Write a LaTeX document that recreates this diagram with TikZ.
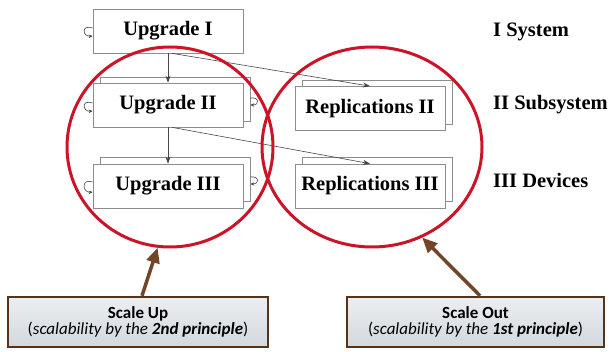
\documentclass[tikz,border=0pt]{standalone}
\usepackage{fontspec}
\setmainfont{Liberation Serif}
\newfontfamily\calibfont{Carlito}
\usetikzlibrary{arrows.meta,shapes.geometric,shadows}
\definecolor{ringred}{RGB}{204,20,40}
\definecolor{boxgray}{RGB}{140,140,140}
\definecolor{linkgray}{RGB}{70,70,70}
\definecolor{pointbrown}{RGB}{115,68,38}
\definecolor{panelframe}{RGB}{85,52,30}
\definecolor{paneltop}{RGB}{236,238,241}
\definecolor{panelbot}{RGB}{210,216,223}
\begin{document}
\begin{tikzpicture}[x=1pt,y=-1pt,
  level/.style={draw=boxgray, line width=0.7pt, fill=white,
    minimum width=150pt, minimum height=44pt, inner sep=0pt,
    font=\bfseries\fontsize{20.5}{22}\selectfont},
  stacked/.style={copy shadow={shadow xshift=7pt, shadow yshift=#1,
    draw=boxgray, line width=0.7pt, fill=white}},
  link/.style={draw=linkgray, line width=0.6pt, -{Stealth[length=7pt,width=5pt]}},
  selfloop/.style={draw=linkgray, line width=0.6pt, -{Stealth[length=4pt,width=3.5pt]}},
  ring/.style={draw=ringred, line width=3pt, ellipse, inner sep=0pt},
  tier/.style={anchor=base west, inner sep=0pt,
    font=\bfseries\fontsize{20.5}{22}\selectfont},
  scalebox/.style={draw=panelframe, line width=2.5pt, top color=paneltop,
    bottom color=panelbot, minimum width=260pt, minimum height=50pt,
    align=center, inner sep=0pt, font=\calibfont\fontsize{17}{15.5}\selectfont},
  pointer/.style={draw=pointbrown, line width=3.5pt,
    -{Triangle[length=15pt,width=13pt]}}
]
\useasboundingbox (0,0) rectangle (612,352);

% hierarchy of upgrades and replications
\node[level] (u1) at (168,31) {Upgrade I};
\node[level, stacked=6pt] (u2) at (168,105) {Upgrade II};
\node[level, stacked=7pt] (u3) at (168,186) {Upgrade III};
\node[level, stacked=6pt] (r2) at (370,108.5) {Replications II};
\node[level, stacked=7pt] (r3) at (370,186) {Replications III};

% tier labels
\node[tier] (t1) at (493,37) {I System};
\node[tier] (t2) at (493,110) {II Subsystem};
\node[tier] (t3) at (493,188) {III Devices};

% links between levels
\draw[link] (u1.south) -- (u2.north);
\draw[link] (u2.south) -- (u3.north);
\draw[link] ([xshift=4pt]u1.south) -- (r2.north);
\draw[link] ([xshift=4pt]u2.south) -- (r3.north);

% self loops
\draw[selfloop] ([yshift=3pt]u1.west) .. controls +(-12,-4) and +(-10,1) .. ([yshift=-5pt]u1.west);
\draw[selfloop] ([yshift=2pt]u2.west) .. controls +(-12,-4) and +(-10,1) .. ([yshift=-6pt]u2.west);
\draw[selfloop] ([yshift=4pt]u3.west) .. controls +(-12,-4) and +(-10,1) .. ([yshift=-6pt]u3.west);
\draw[selfloop] ([xshift=7pt,yshift=7pt]u2.east) .. controls +(10,-1) and +(9,0) .. ([xshift=7pt]u2.east);
\draw[selfloop] ([xshift=7pt,yshift=9pt]u3.east) .. controls +(10,-1) and +(9,0) .. ([xshift=7pt,yshift=2pt]u3.east);

% scaling regions
\node[ring, minimum width=206pt, minimum height=200pt] (up) at (170,147) {};
\node[ring, minimum width=220pt, minimum height=200pt] (out) at (372,147) {};

% explanation panels
\node[scalebox] (su) at (138,322)
  {\textbf{Scale Up}\\(\textit{scalability by the \textbf{2nd principle}})};
\node[scalebox, minimum width=257pt] (so) at (475.5,322)
  {\textbf{Scale Out}\\(\textit{scalability by the \textbf{1st principle}})};

\draw[pointer] ([xshift=4pt]su.north) -- (up.263);
\draw[pointer] ([xshift=4.5pt]so.north) -- (out.299);
\end{tikzpicture}
\end{document}
